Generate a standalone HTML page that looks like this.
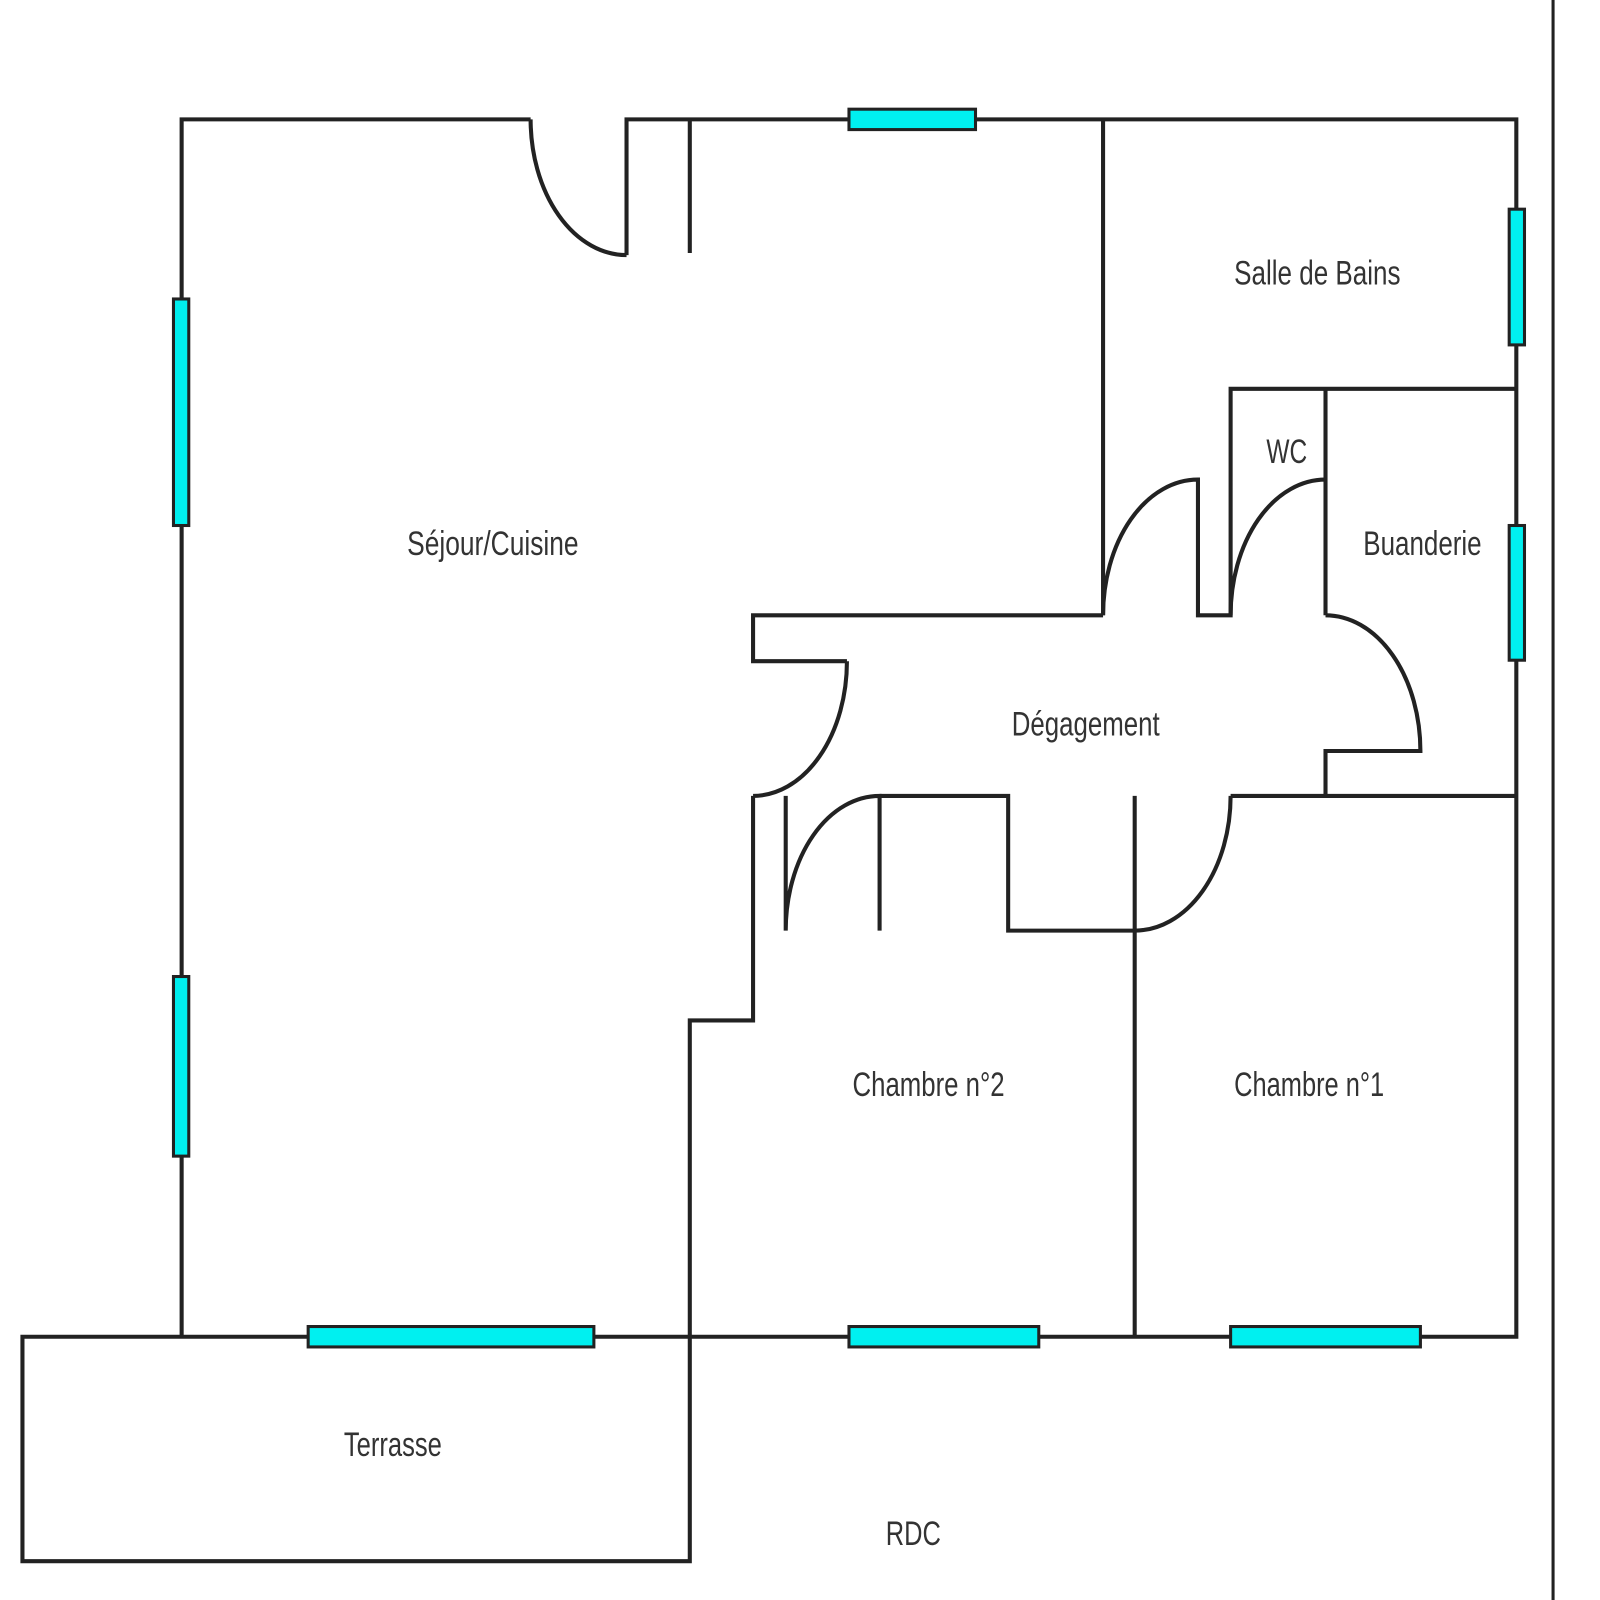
<!DOCTYPE html>
<html><head><meta charset="utf-8"><style>
html,body{margin:0;padding:0;background:#fff;}
svg{display:block;}
text{font-family:"Liberation Sans Narrow","Liberation Sans",sans-serif;font-size:34px;fill:#333;text-anchor:middle;dominant-baseline:middle;}
</style></head><body>
<svg width="1600" height="1600" viewBox="0 0 1568 1568" xmlns="http://www.w3.org/2000/svg">
<g fill="none" stroke="#222" stroke-width="4" stroke-linejoin="miter">
<line x1="1522" y1="0" x2="1522" y2="1568" stroke-width="3"/>
<path d="M520 117 L178 117 L178 1310"/>
<path d="M614 250 L614 117 L1486 117 L1486 1310 L22 1310 L22 1530 L676 1530 L676 1000 L738 1000 L738 780"/>
<path d="M520 117 A94 133 0 0 0 614 250"/>
<line x1="676" y1="117" x2="676" y2="248"/>
<line x1="1081" y1="117" x2="1081" y2="603"/>
<path d="M830 648 L738 648 L738 603 L1081 603"/>
<path d="M830 648 A92 132 0 0 1 738 780"/>
<path d="M1081 603 A93 133 0 0 1 1174 470 L1174 603 L1206 603 L1206 381 L1486 381"/>
<path d="M1206 603 A93 133 0 0 1 1299 470"/>
<line x1="1299" y1="381" x2="1299" y2="603"/>
<path d="M1299 603 A93 133 0 0 1 1392 736 L1299 736 L1299 780"/>
<line x1="1206" y1="780" x2="1486" y2="780"/>
<path d="M770 780 L770 912 A92 132 0 0 1 862 780 L862 912"/>
<path d="M862 780 L988 780 L988 912 L1112 912 A94 132 0 0 0 1206 780"/>
<line x1="1112" y1="780" x2="1112" y2="1310"/>
</g>
<g fill="#00f0f0" stroke="#222" stroke-width="3">
<rect x="832" y="107" width="124" height="20"/>
<rect x="1479" y="205" width="15" height="133"/>
<rect x="1479" y="515" width="15" height="132"/>
<rect x="170" y="293" width="15" height="222"/>
<rect x="170" y="957" width="15" height="176"/>
<rect x="302" y="1300" width="280" height="20"/>
<rect x="832" y="1300" width="186" height="20"/>
<rect x="1206" y="1300" width="186" height="20"/>
</g>
<text x="483" y="535" textLength="168" lengthAdjust="spacingAndGlyphs">Séjour/Cuisine</text>
<text x="1291" y="270" textLength="163" lengthAdjust="spacingAndGlyphs">Salle de Bains</text>
<text x="1261" y="445" textLength="40" lengthAdjust="spacingAndGlyphs">WC</text>
<text x="1394" y="535" textLength="116" lengthAdjust="spacingAndGlyphs">Buanderie</text>
<text x="1064" y="712" textLength="145" lengthAdjust="spacingAndGlyphs">Dégagement</text>
<text x="910" y="1065" textLength="149" lengthAdjust="spacingAndGlyphs">Chambre n°2</text>
<text x="1283" y="1065" textLength="147" lengthAdjust="spacingAndGlyphs">Chambre n°1</text>
<text x="385" y="1418" textLength="96" lengthAdjust="spacingAndGlyphs">Terrasse</text>
<text x="895" y="1505" textLength="54" lengthAdjust="spacingAndGlyphs">RDC</text>
</svg>
</body></html>
